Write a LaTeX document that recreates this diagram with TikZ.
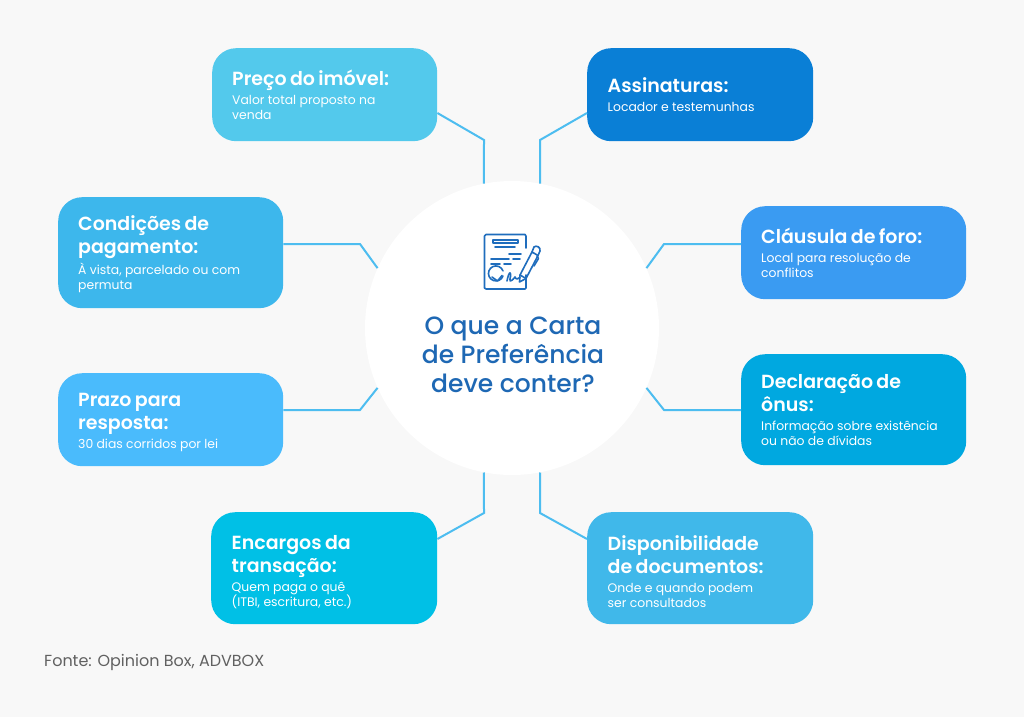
\documentclass[tikz,border=0pt]{standalone}
\usepackage{fontspec}
\setmainfont{Poppins}
\newfontfamily\titlefont{Poppins SemiBold}
\newfontfamily\centerfont{Poppins Medium}
\definecolor{pagebg}{HTML}{F8F8F8}
\definecolor{linkblue}{HTML}{4DBDF0}
\definecolor{iconblue}{HTML}{1F6DBD}
\definecolor{centerblue}{HTML}{1E68B4}
\definecolor{preco}{HTML}{53C9EC}
\definecolor{condicoes}{HTML}{3DB7EC}
\definecolor{prazo}{HTML}{4ABBFC}
\definecolor{encargos}{HTML}{00C0E6}
\definecolor{assinaturas}{HTML}{0A7FD6}
\definecolor{clausula}{HTML}{3A9BF2}
\definecolor{declaracao}{HTML}{00A8E0}
\definecolor{disponib}{HTML}{40B8EA}
% title lines 23 apart, then the description; the option pushes the first line down
\newcommand{\cardtext}[3][0pt]{{\fontsize{19}{23}\titlefont\lineskiplimit=-50pt\let\\\par\rule{0pt}{#1}#2\par}\vspace{4pt}{\fontsize{12.4}{15}\selectfont #3\par}}
\begin{document}
\begin{tikzpicture}[
				x=1pt, y=-1pt,
				card/.style={rectangle, rounded corners=24pt, anchor=north west, text=white, align=left, text width=185pt, inner xsep=20pt, inner ysep=0pt, minimum width=225pt},
				shortcard/.style={card, minimum height=93pt},
				tallcard/.style={card, minimum height=111pt},
				bottomcard/.style={card, minimum width=226pt, minimum height=112pt},
				link/.style={draw=linkblue, line width=2pt},
				icon/.style={draw=iconblue, line width=1.6pt, line cap=round, line join=round}
				]
				\fill[pagebg] (0,0) rectangle (1024,717);
				% central circle
				\node[circle, fill=white, minimum size=294pt, inner sep=0pt] (hub) at (512,328) {};
				\node[text=centerblue, align=center, font=\fontsize{25}{29}\centerfont] (question) at (513,355) {O que a Carta\\de Preferência\\deve conter?};
				% left column
				\node[shortcard, fill=preco] (price) at (212,48) {\cardtext{Preço do imóvel:}{Valor total proposto na\\venda}};
				\node[tallcard, fill=condicoes] (payment) at (58,197) {\cardtext[18pt]{Condições de\\pagamento:}{À vista, parcelado ou com\\permuta}};
				\node[shortcard, fill=prazo] (deadline) at (58,373) {\cardtext[18pt]{Prazo para\\resposta:}{30 dias corridos por lei}};
				\node[bottomcard, fill=encargos] (charges) at (211,512) {\cardtext[21pt]{Encargos da\\transação:}{Quem paga o quê\\(ITBI, escritura, etc.)}};
				% right column
				\node[shortcard, fill=assinaturas, minimum width=226pt] (signatures) at (587,48) {\cardtext{Assinaturas:}{Locador e testemunhas}};
				\node[shortcard, fill=clausula] (forum) at (741,206) {\cardtext{Cláusula de foro:}{Local para resolução de\\conflitos}};
				\node[tallcard, fill=declaracao] (onus) at (741,354) {\cardtext{Declaração de\\ônus:}{Informação sobre existência\\ou não de dívidas}};
				\node[bottomcard, fill=disponib] (documents) at (587,512) {\cardtext[21pt]{Disponibilidade\\de documentos:}{Onde e quando podem\\ser consultados}};
				% connectors
				\coordinate (pricebend) at (484,140);
				\coordinate (signbend) at (540,140);
				\coordinate (paybend) at (360,244);
				\coordinate (forumbend) at (664,244);
				\coordinate (deadbend) at (360,410);
				\coordinate (onusbend) at (664,410);
				\coordinate (chargebend) at (484,513);
				\coordinate (docbend) at (540,513);
				\draw[link] (price.east |- 0,113) -- (pricebend) -- (hub.101);
				\draw[link] (signatures.west |- 0,113) -- (signbend) -- (hub.79);
				\draw[link] (payment.east |- paybend) -- (paybend) -- (hub.156);
				\draw[link] (forum.west |- forumbend) -- (forumbend) -- (hub.24);
				\draw[link] (deadline.east |- deadbend) -- (deadbend) -- (hub.204);
				\draw[link] (onus.west |- onusbend) -- (onusbend) -- (hub.336);
				\draw[link] (charges.east |- 0,539) -- (chargebend) -- (hub.259);
				\draw[link] (documents.west |- 0,539) -- (docbend) -- (hub.281);
				% document icon
				\draw[icon] (526,248) -- (526,236) -- (525,234.5) -- (486,234.5) -- (484.5,236) -- (484.5,288) -- (486,289) -- (525,289) -- (526,288) -- (526,275);
				\draw[icon] (493,240) rectangle (518,243);
				\draw[icon] (495,247) -- (515,247);
				\draw[icon] (509,254) -- (521,254);
				\draw[icon] (491,259) -- (509,259) (513,259) -- (520,259);
				\draw[icon] (491,264) -- (500,264) (504,264) -- (511,264);
				\draw[icon] (503,276) arc[start angle=20, end angle=340, radius=7.5];
				\draw[icon] (492,277) -- (497.5,281) -- (502,275.5);
				\draw[icon] (507,281) .. controls (509,270) and (512,271) .. (510,279) .. controls (509,283) and (513,280) .. (515,277) .. controls (516,280) and (518,279) .. (520,277.5);
				\draw[icon] (520,275) -- (532,252) -- (538,255.5) -- (526,278.5) -- cycle;
				\draw[icon] (520,275) -- (519.5,282) -- (526,278.5);
				\draw[icon] (532,252) -- (534,247) .. controls (536,245) and (541,247) .. (540,251) -- (538,255.5);
				\draw[icon] (537,256) -- (538.5,258.5) -- (534,266);
				% source
				\node[anchor=west, text=black!62, font=\fontsize{16}{18}\selectfont, inner sep=0pt] (source) at (44,662.5) {Fonte: Opinion Box, ADVBOX};
			\end{tikzpicture}
\end{document}
